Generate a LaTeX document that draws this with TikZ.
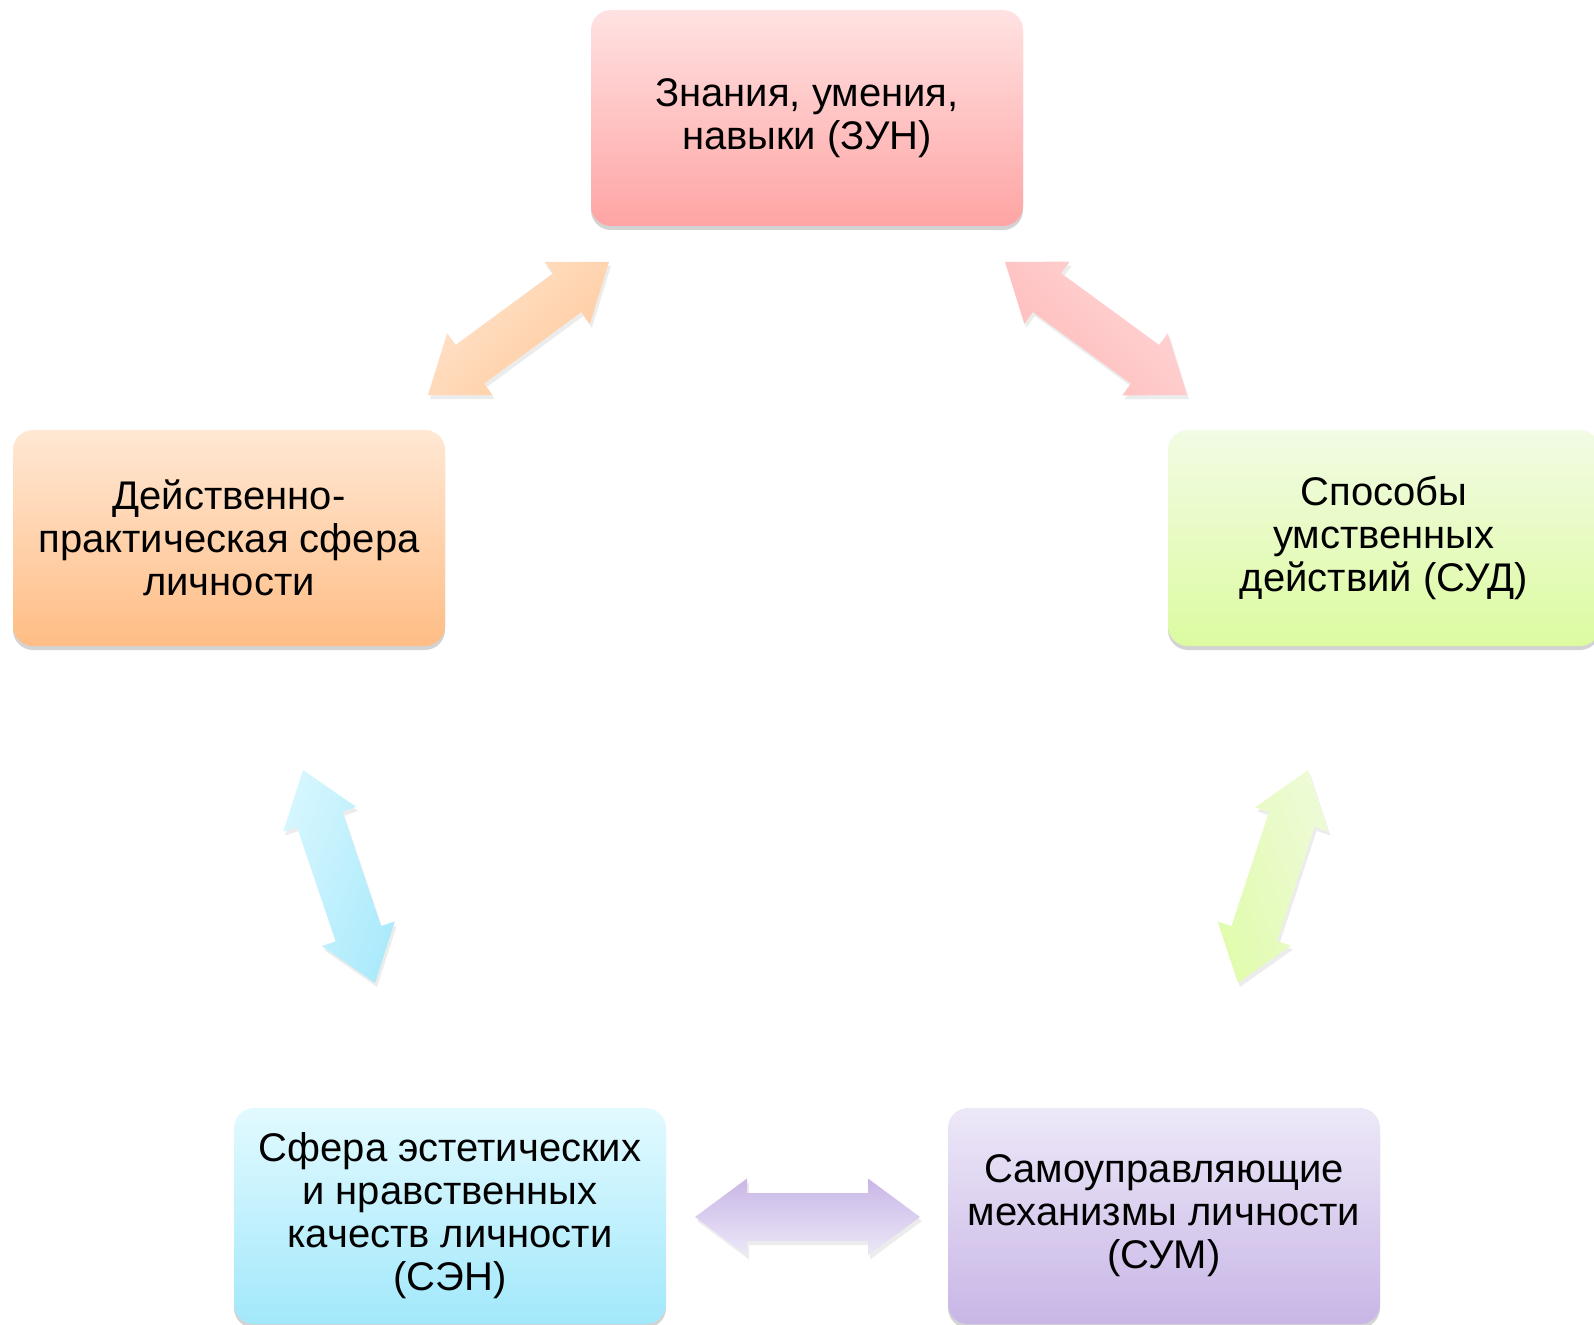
\documentclass[tikz,border=0pt]{standalone}
\usepackage{fontspec}
\setmainfont{Liberation Sans}
\usetikzlibrary{calc,shadows}

\definecolor{zunTop}{HTML}{FFE2E2}
\definecolor{zunBot}{HTML}{FFA4A4}
\definecolor{dpsTop}{HTML}{FFE8D4}
\definecolor{dpsBot}{HTML}{FFBD85}
\definecolor{sudTop}{HTML}{F2FBE4}
\definecolor{sudBot}{HTML}{DCFBA0}
\definecolor{senTop}{HTML}{E2FAFF}
\definecolor{senBot}{HTML}{A2E8FB}
\definecolor{sumTop}{HTML}{EDE8F8}
\definecolor{sumBot}{HTML}{C8B6E6}

% fat two-headed arrow: from, to, light colour, dark colour, shading angle
\newcommand{\pairarrow}[5]{%
  \coordinate (h1) at ($(#1)!26pt!(#2)$);
  \coordinate (h2) at ($(#2)!26pt!(#1)$);
  \shade[arrowshade, top color=#3, bottom color=#4, shading angle=#5]
    (#1) -- ($(h1)!19.25pt!90:(#2)$) -- ($(h1)!12pt!90:(#2)$)
    -- ($(h2)!12pt!-90:(#1)$) -- ($(h2)!19.25pt!-90:(#1)$)
    -- (#2) -- ($(h2)!19.25pt!90:(#1)$) -- ($(h2)!12pt!90:(#1)$)
    -- ($(h1)!12pt!-90:(#2)$) -- ($(h1)!19.25pt!-90:(#2)$) -- cycle;
}

\begin{document}
\begin{tikzpicture}[x=0.5pt,y=-0.5pt]
  \tikzstyle{block}=[rectangle, rounded corners=10pt, minimum width=216pt,
    minimum height=108pt, inner sep=0pt, align=center,
    font=\fontsize{20pt}{21.5pt}\selectfont,
    drop shadow={shadow xshift=0pt, shadow yshift=-2pt, opacity=0.35}];
  \tikzstyle{arrowshade}=[drop shadow={shadow xshift=1pt, shadow yshift=-2pt, opacity=0.15}];
  \useasboundingbox (0,0) rectangle (1594,1325);

  \node[block, top color=zunTop, bottom color=zunBot] (zun) at (807,118)
    {Знания, умения,\\навыки (ЗУН)};
  \node[block, top color=dpsTop, bottom color=dpsBot] (dps) at (229,538)
    {Действенно-\\практическая сфера\\личности};
  \node[block, top color=sudTop, bottom color=sudBot] (sud) at (1384,538)
    {Способы\\умственных\\действий (СУД)};
  \node[block, top color=senTop, bottom color=senBot] (sen) at (450,1216)
    {Сфера эстетических\\и нравственных\\качеств личности\\(СЭН)};
  \node[block, top color=sumTop, bottom color=sumBot] (sum) at (1164,1216)
    {Самоуправляющие\\механизмы личности\\(СУМ)};

  % arrow ends
  \coordinate (dpsA) at (428,395);
  \coordinate (zunA) at (609,262);
  \coordinate (zunB) at (1005,262);
  \coordinate (sudA) at (1187,395);
  \coordinate (sudB) at (1308,770);
  \coordinate (sumA) at (1238,983);
  \coordinate (sumB) at (920,1217);
  \coordinate (senA) at (695,1217);
  \coordinate (senB) at (375,983);
  \coordinate (dpsB) at (303,770);

  \pairarrow{dpsA}{zunA}{dpsTop!90!dpsBot}{dpsBot!80}{45}
  \pairarrow{zunB}{sudA}{zunTop!80!zunBot}{zunBot!75}{-45}
  \pairarrow{sudB}{sumA}{sudTop!80!sudBot}{sudBot!85}{-70}
  \pairarrow{senA}{sumB}{sumBot}{sumTop}{0}
  \pairarrow{dpsB}{senB}{senTop!80!senBot}{senBot!90}{70}
\end{tikzpicture}
\end{document}
